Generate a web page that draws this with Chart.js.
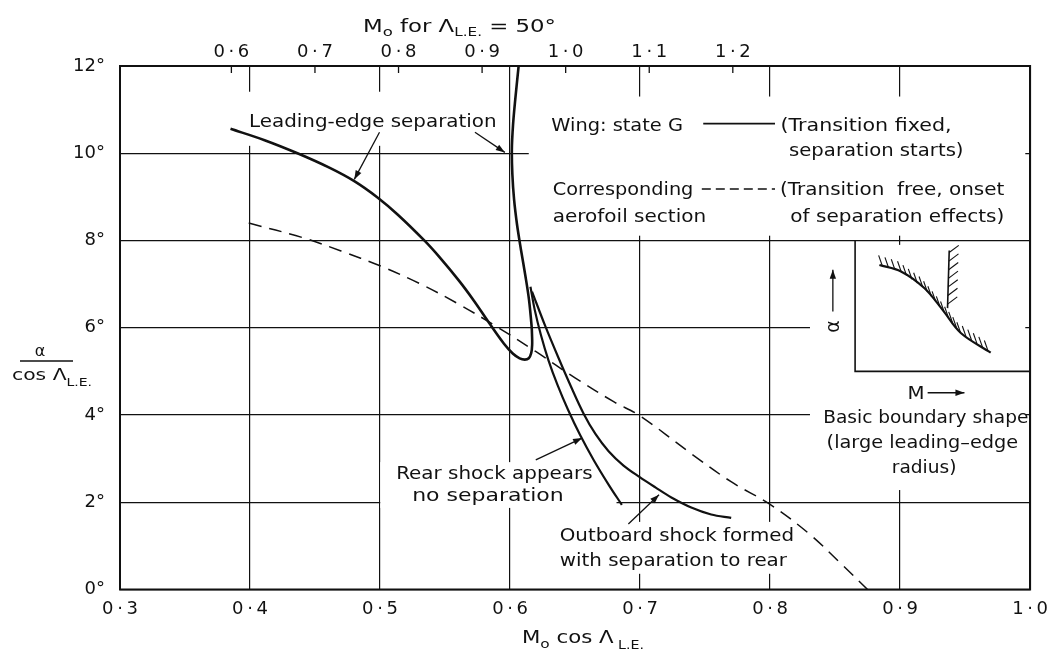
<!DOCTYPE html>
<html lang="en">
<head>
  <meta charset="UTF-8" />
  <title>Separation boundaries, wing state G</title>
  <script src="https://cdn.jsdelivr.net/npm/chart.js"></script>
  <style>
    * { margin: 0; padding: 0; box-sizing: border-box; }
    body { background: #fff; width: 1057px; height: 654px; overflow: hidden; }
    canvas { display: block; }
  </style>
</head>
<body>
  <canvas id="chart" width="1057" height="654"></canvas>

  <script>
    const COS50 = Math.cos(50 * Math.PI / 180);

    // axes
    const xTicks = [0.3, 0.4, 0.5, 0.6, 0.7, 0.8, 0.9, 1.0];
    const yTicks = [0, 2, 4, 6, 8, 10, 12];
    const topTicks = [0.6, 0.7, 0.8, 0.9, 1.0, 1.1, 1.2];   // M0 for sweep 50 deg

    // wing state G, leading-edge separation (runs down, loops, climbs back up)
    const leadX = [0.3850, 0.4112, 0.4365, 0.4610, 0.4802, 0.4983, 0.5137, 0.5344, 0.5454, 0.5607,
                   0.5722, 0.5837, 0.5952, 0.6021, 0.6074, 0.6113, 0.6144, 0.6163, 0.6170, 0.6169,
                   0.6166, 0.6146, 0.6117, 0.6084, 0.6054, 0.6031, 0.6018, 0.6014, 0.6023, 0.6040, 0.6066];
    const leadY = [10.56, 10.30, 10.00, 9.67, 9.36, 8.98, 8.59, 7.99, 7.63, 7.08,
                   6.62, 6.12, 5.64, 5.41, 5.30, 5.27, 5.30, 5.42, 5.61, 5.84,
                   6.03, 6.64, 7.21, 7.79, 8.36, 8.94, 9.51, 10.08, 10.65, 11.23, 12.0];

    // rear shock appears, no separation
    const rearX = [0.6157, 0.6190, 0.6237, 0.6295, 0.6365, 0.6446, 0.6539, 0.6643, 0.6759, 0.6860];
    const rearY = [6.94, 6.41, 5.84, 5.26, 4.69, 4.12, 3.54, 2.97, 2.40, 1.94];

    // outboard shock formed with separation to rear
    const outX = [0.6169, 0.6272, 0.6374, 0.6466, 0.6566, 0.6658, 0.6758, 0.6873, 0.6995, 0.7118,
                  0.7241, 0.7394, 0.7547, 0.7701];
    const outY = [6.83, 6.03, 5.30, 4.67, 4.03, 3.56, 3.17, 2.84, 2.58, 2.34,
                  2.11, 1.88, 1.72, 1.64];

    // corresponding aerofoil section (dashed)
    const aeroX = [0.399, 0.44, 0.47, 0.50, 0.53, 0.56, 0.59, 0.62, 0.65, 0.68, 0.70,
                   0.74, 0.77, 0.80, 0.83, 0.855, 0.875];
    const aeroY = [8.40, 8.07, 7.76, 7.42, 7.02, 6.55, 6.02, 5.45, 4.85, 4.30, 3.98,
                   3.10, 2.47, 1.95, 1.28, 0.58, 0.0];

    // sketch of the basic boundary shape (inset, in main-axis units)
    const insetX = [0.8841, 0.9007, 0.9186, 0.9327, 0.9467, 0.9697];
    const insetY = [7.44, 7.29, 6.91, 6.41, 5.88, 5.43];
    const wallX = [0.9378, 0.9365];
    const wallY = [7.77, 6.45];

    const FONT = "'DejaVu Sans', sans-serif";
    const INK = '#111';

    const fmt = v => v.toFixed(1).replace('.', '\u2009\u00b7\u2009');

    // [text, x0, x1, y]  in data units, text stretched to span x0..x1
    const labels = [
      ['Leading-edge separation', 0.3992, 0.5897, 10.75],
      ['Wing: state G', 0.6317, 0.7330, 10.65],
      ['(Transition fixed,', 0.8080, 0.9396, 10.65],
      ['separation starts)', 0.8146, 0.9488, 10.08],
      ['Corresponding', 0.6328, 0.7410, 9.18],
      ['(Transition  free, onset', 0.8077, 0.9802, 9.18],
      ['aerofoil section', 0.6328, 0.7509, 8.56],
      ['of separation effects)', 0.8156, 0.9802, 8.56],
      ['Basic boundary shape', 0.8409, 0.9987, 3.96],
      ['(large leading\u2013edge', 0.8435, 0.9908, 3.39],
      ['radius)', 0.8936, 0.9434, 2.82],
      ['Rear shock appears', 0.5124, 0.6635, 2.67],
      ['no separation', 0.5247, 0.6413, 2.17],
      ['Outboard shock formed', 0.6382, 0.8184, 1.25],
      ['with separation to rear', 0.6382, 0.8130, 0.68],
      ['M', 0.9058, 0.9189, 4.51]
    ];

    // [x0, y0, x1, y1] arrow tail -> head
    const arrows = [
      [0.4996, 10.48, 0.4802, 9.40],
      [0.5730, 10.48, 0.5960, 10.02],
      [0.6198, 2.97, 0.6554, 3.47],
      [0.6910, 1.50, 0.7146, 2.17],
      [0.8483, 6.37, 0.8483, 7.33],
      [0.9212, 4.51, 0.9495, 4.51]
    ];

    // white areas behind the lettering [x0, x1, yTop, yBottom]
    const masks = [
      [0.392, 0.5952, 11.41, 10.17],
      [0.6144, 0.9963, 11.30, 8.11],
      [0.8307, 0.9963, 7.90, 2.28],
      [0.5002, 0.6819, 2.92, 1.87],
      [0.6336, 0.8215, 1.55, 0.36]
    ];

    function fitText(ctx, str, x0, x1, base, size) {
      ctx.font = `${size}px ${FONT}`;
      const w = ctx.measureText(str).width;
      ctx.save();
      ctx.translate(x0, base);
      ctx.scale((x1 - x0) / w, 1);
      ctx.fillText(str, 0, 0);
      ctx.restore();
    }

    function richText(ctx, parts, x0, x1, base) {
      const widths = parts.map(([t, s]) => { ctx.font = `${s}px ${FONT}`; return ctx.measureText(t).width; });
      const total = widths.reduce((a, b) => a + b, 0);
      ctx.save();
      ctx.translate(x0, base);
      ctx.scale((x1 - x0) / total, 1);
      let x = 0;
      parts.forEach(([t, s, dy], i) => {
        ctx.font = `${s}px ${FONT}`;
        ctx.fillText(t, x, dy);
        x += widths[i];
      });
      ctx.restore();
    }

    function arrow(ctx, ax, ay, bx, by) {
      ctx.beginPath(); ctx.moveTo(ax, ay); ctx.lineTo(bx, by); ctx.stroke();
      const a = Math.atan2(by - ay, bx - ax), L = 9, W = 3.2;
      ctx.beginPath();
      ctx.moveTo(bx, by);
      ctx.lineTo(bx - L * Math.cos(a) + W * Math.sin(a), by - L * Math.sin(a) - W * Math.cos(a));
      ctx.lineTo(bx - L * Math.cos(a) - W * Math.sin(a), by - L * Math.sin(a) + W * Math.cos(a));
      ctx.closePath(); ctx.fill();
    }

    // short hatch strokes along a polyline
    function hatch(ctx, pts, step, dx, dy, len, start) {
      const n = Math.hypot(dx, dy); dx /= n; dy /= n;
      let carry = start;
      for (let i = 0; i < pts.length - 1; i++) {
        const [ax, ay] = pts[i], [bx, by] = pts[i + 1];
        const seg = Math.hypot(bx - ax, by - ay);
        let d = carry;
        while (d <= seg) {
          const px = ax + (bx - ax) * d / seg, py = ay + (by - ay) * d / seg;
          ctx.beginPath(); ctx.moveTo(px, py); ctx.lineTo(px + dx * len, py + dy * len); ctx.stroke();
          d += step;
        }
        carry = d - seg;
      }
    }

    const sketch = {
      id: 'sketch',
      beforeDatasetsDraw(chart) {
        const { ctx, scales: { x, y } } = chart;
        ctx.save();
        ctx.fillStyle = '#fff';
        masks.forEach(([x0, x1, t, b]) => {
          const px0 = x.getPixelForValue(x0), px1 = x.getPixelForValue(x1);
          const pt = y.getPixelForValue(t), pb = y.getPixelForValue(b);
          ctx.fillRect(px0, pt, px1 - px0, pb - pt);
        });
        ctx.restore();
      },
      afterDatasetsDraw(chart) {
        const { ctx, chartArea: ca, scales: { x, y, x2 } } = chart;
        const X = v => x.getPixelForValue(v), Y = v => y.getPixelForValue(v);
        ctx.save();
        ctx.strokeStyle = INK; ctx.fillStyle = INK;
        ctx.textAlign = 'left'; ctx.textBaseline = 'alphabetic';

        // inset frame
        ctx.lineWidth = 1.6;
        ctx.beginPath();
        ctx.moveTo(X(0.8654), Y(8)); ctx.lineTo(X(0.8654), Y(5.0)); ctx.lineTo(X(1.0), Y(5.0));
        ctx.stroke();

        // hatching on the inset boundaries
        ctx.lineWidth = 1.1;
        hatch(ctx, insetX.map((v, i) => [X(v), Y(insetY[i])]), 6.6, -0.35, -1, 11, 3);
        hatch(ctx, wallX.map((v, i) => [X(v), Y(wallY[i])]), 8.6, 1, -0.75, 12, 2);

        // legend sample lines
        ctx.lineWidth = 1.8;
        ctx.beginPath(); ctx.moveTo(X(0.7486), Y(10.68)); ctx.lineTo(X(0.8038), Y(10.68)); ctx.stroke();
        ctx.lineWidth = 1.5;
        ctx.setLineDash([9, 5]);
        ctx.beginPath(); ctx.moveTo(X(0.7475), Y(9.18)); ctx.lineTo(X(0.8038), Y(9.18)); ctx.stroke();
        ctx.setLineDash([]);

        // arrows
        ctx.lineWidth = 1.3;
        arrows.forEach(([a, b, c, d]) => arrow(ctx, X(a), Y(b), X(c), Y(d)));

        // lettering
        labels.forEach(([t, x0, x1, v]) => fitText(ctx, t, X(x0), X(x1), Y(v) + 6.2, 17));

        // alpha beside the inset arrow
        ctx.save();
        ctx.translate(X(0.8483) + 6, Y(6.03));
        ctx.rotate(-Math.PI / 2);
        ctx.font = `19px ${FONT}`;
        ctx.textAlign = 'center';
        ctx.fillText('\u03b1', 0, 0);
        ctx.restore();

        // M0 ticks on the top edge
        ctx.lineWidth = 1.3;
        topTicks.forEach(v => {
          const px = x2.getPixelForValue(v);
          ctx.beginPath(); ctx.moveTo(px, ca.top); ctx.lineTo(px, ca.top + 7); ctx.stroke();
        });

        // frame
        ctx.lineWidth = 2;
        ctx.strokeRect(ca.left, ca.top, ca.right - ca.left, ca.bottom - ca.top);

        // axis titles
        richText(ctx, [['M', 18, 0], ['o', 13, 4], [' for ', 18, 0], ['\u039b', 18, 0],
                       ['L.E.', 12, 4], [' = 50\u00b0', 18, 0]], 363, 556, 32);
        richText(ctx, [['M', 18, 0], ['o', 13, 5], [' cos ', 18, 0], ['\u039b', 18, 0],
                       [' L.E.', 12, 6]], 522, 644, 643);
        ctx.font = `16px ${FONT}`;
        ctx.textAlign = 'center';
        ctx.fillText('\u03b1', 40, 356);
        ctx.textAlign = 'left';
        ctx.lineWidth = 1.5;
        ctx.beginPath(); ctx.moveTo(20, 361); ctx.lineTo(73, 361); ctx.stroke();
        richText(ctx, [['cos ', 16, 0], ['\u039b', 16, 0], ['L.E.', 11, 6]], 12, 92, 380);

        ctx.restore();
      }
    };

    const line = (xs, ys, width) => ({
      data: xs.map((v, i) => ({ x: v, y: ys[i] })),
      showLine: true,
      borderColor: INK,
      borderWidth: width,
      pointRadius: 0,
      tension: 0.35,
      fill: false
    });

    const tickFont = { family: FONT, size: 18 };

    new Chart(document.getElementById('chart').getContext('2d'), {
      type: 'scatter',
      data: {
        datasets: [
          line(leadX, leadY, 2.6),
          line(rearX, rearY, 2.2),
          line(outX, outY, 2.2),
          { ...line(aeroX, aeroY, 1.5), borderDash: [13, 8] },
          line(insetX, insetY, 2.2),
          { ...line(wallX, wallY, 1.6), tension: 0 }
        ]
      },
      options: {
        responsive: false,
        animation: false,
        layout: { padding: { left: 0, right: 24, top: 0, bottom: 0 } },
        plugins: { legend: { display: false }, tooltip: { enabled: false } },
        scales: {
          x: {
            type: 'linear', position: 'bottom', min: 0.3, max: 1.0,
            afterBuildTicks: s => { s.ticks = xTicks.map(v => ({ value: v })); },
            afterFit: s => { s.height = 64.5; },
            grid: { color: INK, lineWidth: 1.2, drawTicks: false },
            border: { display: false },
            ticks: { color: INK, font: tickFont, padding: 9, autoSkip: false, maxRotation: 0, callback: v => fmt(v) }
          },
          x2: {
            type: 'linear', position: 'top', min: 0.3 / COS50, max: 1.0 / COS50,
            afterBuildTicks: s => { s.ticks = topTicks.map(v => ({ value: v })); },
            afterFit: s => { s.height = 66; },
            grid: { display: false, drawTicks: false },
            border: { display: false },
            ticks: { color: INK, font: tickFont, padding: 3, autoSkip: false, maxRotation: 0, callback: v => fmt(v) }
          },
          y: {
            min: 0, max: 12,
            afterBuildTicks: s => { s.ticks = yTicks.map(v => ({ value: v })); },
            afterFit: s => { s.width = 120; },
            grid: { color: INK, lineWidth: 1.2, drawTicks: false },
            border: { display: false },
            ticks: { color: INK, font: tickFont, padding: 15, callback: v => v + '\u00b0' }
          }
        }
      },
      plugins: [sketch]
    });
  </script>
</body>
</html>
